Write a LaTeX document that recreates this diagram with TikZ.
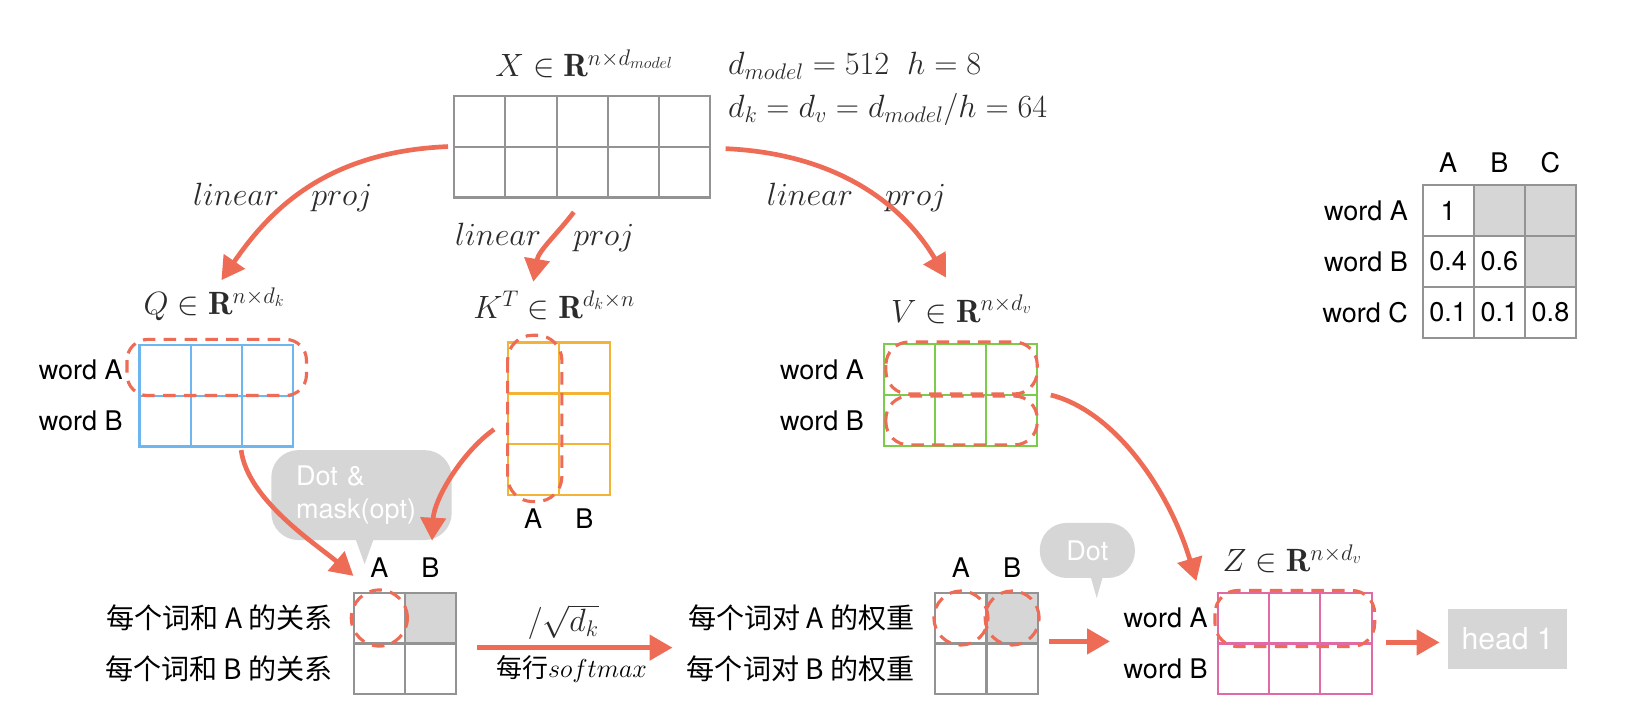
\RequirePackage{fix-cm}
\documentclass[tikz,border=0pt]{standalone}
\usepackage{fontspec}
\setsansfont{TeX Gyre Heros}
\newfontfamily\cjk{Noto Sans CJK SC}
\usetikzlibrary{positioning,matrix,arrows.meta}
\definecolor{arrowred}{HTML}{EE6C56}
\definecolor{gridgray}{HTML}{939393}
\definecolor{qblue}{HTML}{6DB6F0}
\definecolor{korange}{HTML}{F3B337}
\definecolor{vgreen}{HTML}{7DCB4B}
\definecolor{zpink}{HTML}{E06AA5}
\definecolor{cellgray}{HTML}{D6D6D6}
\definecolor{mathgray}{HTML}{2B2B2B}

\begin{document}
\begin{tikzpicture}[x=1pt,y=-1pt,
    every node/.style={font=\sffamily\fontsize{26}{31}\selectfont},
    lab/.style={font=\fontsize{31}{37}\selectfont,text=mathgray},
    cjklab/.style={font=\cjk\fontsize{27}{32}\selectfont},
    rowlab/.style={anchor=east,inner sep=0pt},
    collab/.style={inner sep=0pt},
    mat/.style={matrix of nodes,nodes in empty cells,inner sep=0pt,outer sep=0pt,
        column sep=-2pt,row sep=-2pt,
        nodes={draw=#1,line width=2pt,minimum width=49.2pt,minimum height=49pt,
            inner sep=0pt,outer sep=0pt,anchor=center}},
    arr/.style={draw=arrowred,line width=4.5pt,-{Triangle[length=22pt,width=24pt]}},
    hl/.style={draw=arrowred,line width=3pt,dash pattern=on 12pt off 8pt},
    bubble/.style={fill=cellgray,rounded corners=26pt,text=white,align=left}]
    \path[use as bounding box,fill=white] (0,0) rectangle (1568,695);

    % input X and sizes
    \matrix[mat=gridgray] (X) at (560,141) { & & & & \\ & & & & \\ };
    \node[lab,anchor=base] (Xlab) at (562,74) {$X\in\mathbf{R}^{n\times d_{model}}$};
    \node[lab,anchor=base west] (dm) at (697,72) {$d_{model}=512\;\;h=8$};
    \node[lab,anchor=base west] (dk) at (697,113) {$d_k=d_v=d_{model}/h=64$};

    % Q, K^T, V
    \matrix[mat=qblue] (Q) at (208,380.5) { & & \\ & & \\ };
    \node[lab,anchor=base] (Qlab) at (206,303) {$Q\in\mathbf{R}^{n\times d_k}$};
    \node[rowlab] (qA) at ([xshift=-16pt]Q-1-1.west) {word A};
    \node[rowlab] (qB) at ([xshift=-16pt]Q-2-1.west) {word B};

    \matrix[mat=korange] (K) at (537.5,403) { & \\ & \\ & \\ };
    \node[lab,anchor=base] (Klab) at (533,306) {$K^T\in\mathbf{R}^{d_k\times n}$};
    \node[collab] (kA) at ([yshift=-22pt]K-3-1.south) {A};
    \node[collab] (kB) at ([yshift=-22pt]K-3-2.south) {B};

    \matrix[mat=vgreen] (V) at (924,380) { & & \\ & & \\ };
    \node[lab,anchor=base] (Vlab) at (925,310) {$V\in\mathbf{R}^{n\times d_v}$};
    \node[rowlab] (vA) at ([xshift=-19pt]V-1-1.west) {word A};
    \node[rowlab] (vB) at ([xshift=-19pt]V-2-1.west) {word B};

    \node[lab] (lp1) at (272,190) {$linear\quad proj$};
    \node[lab] (lp2) at (524,228) {$linear\quad proj$};
    \node[lab] (lp3) at (824,190) {$linear\quad proj$};

    % mask
    \matrix[mat=gridgray] (M) at (1442.3,251.5) {
        1 & |[fill=cellgray]| & |[fill=cellgray]| \\
        0.4 & 0.6 & |[fill=cellgray]| \\
        0.1 & 0.1 & 0.8 \\
    };
    \node[collab] (mA) at ([yshift=22pt]M-1-1.north) {A};
    \node[collab] (mB) at ([yshift=22pt]M-1-2.north) {B};
    \node[collab] (mC) at ([yshift=22pt]M-1-3.north) {C};
    \node[rowlab] (mwA) at ([xshift=-14pt]M-1-1.west) {word A};
    \node[rowlab] (mwB) at ([xshift=-14pt]M-2-1.west) {word B};
    \node[rowlab] (mwC) at ([xshift=-14pt]M-3-1.west) {word C};

    % scores and weights
    \matrix[mat=gridgray] (S) at (389.5,619) { & |[fill=cellgray]| \\ & \\ };
    \node[collab] (sA) at ([yshift=24pt]S-1-1.north) {A};
    \node[collab] (sB) at ([yshift=24pt]S-1-2.north) {B};
    \node[rowlab,cjklab] (sl1) at ([xshift=-20pt]S-1-1.west) {每个词和 A 的关系};
    \node[rowlab,cjklab] (sl2) at ([xshift=-20pt]S-2-1.west) {每个词和 B 的关系};

    \matrix[mat=gridgray] (W) at (949,619) { & |[fill=cellgray]| \\ & \\ };
    \node[collab] (wA) at ([yshift=24pt]W-1-1.north) {A};
    \node[collab] (wB) at ([yshift=24pt]W-1-2.north) {B};
    \node[rowlab,cjklab] (wl1) at ([xshift=-20pt]W-1-1.west) {每个词对 A 的权重};
    \node[rowlab,cjklab] (wl2) at ([xshift=-20pt]W-2-1.west) {每个词对 B 的权重};

    \matrix[mat=zpink] (Z) at (1245.6,619) { & & \\ & & \\ };
    \node[lab,anchor=base] (Zlab) at (1243,550) {$Z\in\mathbf{R}^{n\times d_v}$};
    \node[rowlab] (zA) at ([xshift=-10pt]Z-1-1.west) {word A};
    \node[rowlab] (zB) at ([xshift=-10pt]Z-2-1.west) {word B};

    \node[fill=cellgray,text=white,minimum width=114.6pt,minimum height=57.6pt,
        font=\sffamily\fontsize{29}{35}\selectfont] (head) at (1450.3,614.8) {head 1};

    % bubbles
    \node[bubble,text width=126pt,minimum width=173.5pt,minimum height=86.5pt] (bub1) at (347.75,476.25) {Dot \&\\mask(opt)};
    \fill[cellgray] ([xshift=-6pt,yshift=2pt]bub1.south) -- ([xshift=12pt,yshift=2pt]bub1.south)
        -- ([xshift=3pt,yshift=-23pt]bub1.south) -- cycle;
    \node[bubble,minimum width=91.5pt,minimum height=53pt] (bub2) at (1046,529.5) {Dot};
    \fill[cellgray] ([xshift=3pt,yshift=2pt]bub2.south) -- ([xshift=15pt,yshift=2pt]bub2.south)
        -- ([xshift=9pt,yshift=-19pt]bub2.south) -- cycle;

    % highlights
    \draw[hl,rounded corners=20pt] ([xshift=-12pt,yshift=5pt]Q-1-1.north west) rectangle ([xshift=13pt]Q-1-3.south east);
    \draw[hl,rounded corners=24pt] ([yshift=7pt]K-1-1.north west) rectangle ([xshift=3pt,yshift=-6pt]K-3-1.south east);
    \draw[hl,rounded corners=22pt] ([xshift=2pt,yshift=2pt]V-1-1.north west) rectangle ([yshift=1pt]V-1-3.south east);
    \draw[hl,rounded corners=22pt] ([xshift=2pt,yshift=-1pt]V-2-1.north west) rectangle ([yshift=1pt]V-2-3.south east);
    \draw[hl,rounded corners=22pt] ([xshift=-3pt,yshift=2pt]Z-1-1.north west) rectangle ([xshift=3pt,yshift=-3pt]Z-1-3.south east);
    \draw[hl] (S-1-1.center) circle[radius=27pt];
    \draw[hl] (W-1-1.center) circle[radius=26pt];
    \draw[hl] (W-1-2.center) circle[radius=26pt];

    % arrows
    \draw[arr] ([xshift=-5pt]X.west) .. controls +(-120,5) and +(45,-65) .. ([xshift=5pt,yshift=61pt]Q.north);
    \draw[arr] ([xshift=-8pt,yshift=-13pt]X.south) .. controls +(-15,20) and +(5,-30) .. ([xshift=-24.5pt,yshift=57.5pt]K.north);
    \draw[arr] ([xshift=14pt,yshift=-2pt]X.east) .. controls +(110,5) and +(-40,-68) .. ([xshift=-14pt,yshift=63pt]V.north);
    \draw[arr] ([xshift=24pt,yshift=-2.5pt]Q.south) .. controls +(6,48) and +(-35,-30) .. ([xshift=-49.5pt,yshift=15pt]S.north);
    \draw[arr] ([xshift=-12pt,yshift=-10pt]K.west) .. controls +(-31,22) and +(2,-40) .. ([xshift=1.5pt,yshift=50pt]S-1-2.north);
    \draw[arr] ([xshift=12pt]V.east) .. controls +(60,15) and +(-27,-90) .. ([xshift=-20pt,yshift=10pt]Z.north west);
    \draw[arr] ([xshift=19pt,yshift=-4pt]S.east) -- ([xshift=-15pt,yshift=-4pt]S.east -| wl1.west)
        node[midway,above=2pt,xshift=-11pt,lab] {$/\sqrt{d_k}$}
        node[midway,below=2pt,xshift=-3pt,font=\cjk\fontsize{25}{30}\selectfont] {每行$softmax$};
    \draw[arr] ([xshift=10pt,yshift=2pt]W.east) -- ([xshift=-13pt,yshift=2pt]W.east -| zA.west);
    \draw[arr] ([xshift=13pt,yshift=1pt]Z.east) -- ([xshift=-8pt,yshift=1pt]head.west |- Z.east);
\end{tikzpicture}
\end{document}
